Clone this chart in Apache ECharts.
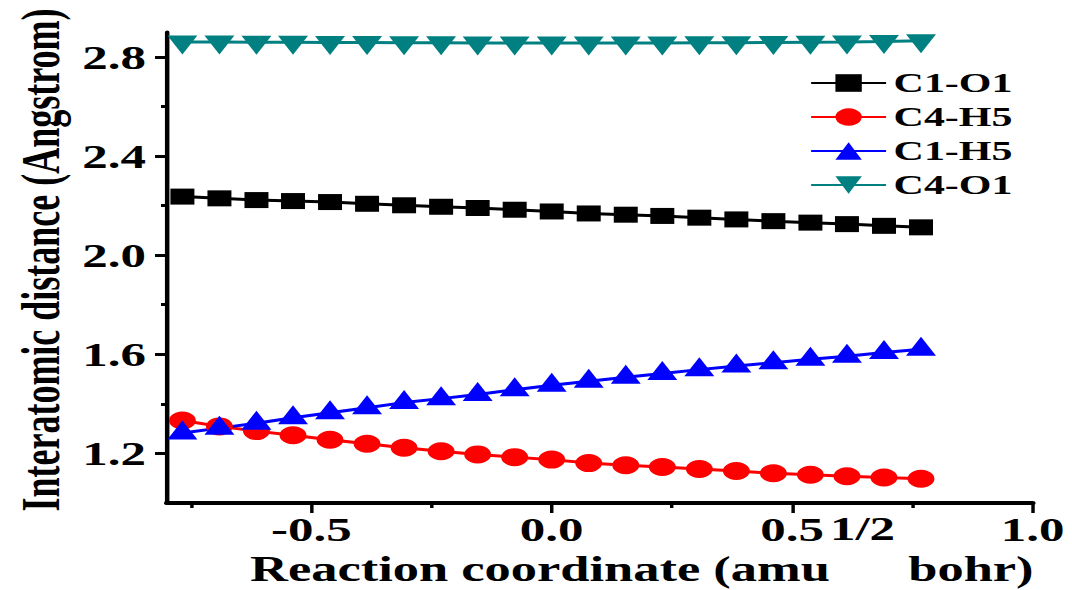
<!DOCTYPE html>
<html>
<head>
<meta charset="utf-8">
<script src="https://cdn.jsdelivr.net/npm/echarts@6/dist/echarts.min.js"></script>
<style>
  html, body { margin: 0; padding: 0; background: #fff; }
  #wrap { width: 1072px; height: 590px; overflow: hidden; position: relative; }
  #chart { width: 715px; height: 590px; transform: scaleX(1.4993); transform-origin: 0 0; }
</style>
</head>
<body>
<div id="wrap"><div id="chart"></div></div>
<script>
// Reaction coordinate (amu^1/2 bohr)
const xValues = [-0.768, -0.691, -0.614, -0.538, -0.461, -0.384, -0.307, -0.230, -0.154, -0.077,
                 0.000, 0.077, 0.154, 0.230, 0.307, 0.384, 0.461, 0.538, 0.614, 0.691, 0.768];
// Interatomic distances (Angstrom)
const c1o1 = [2.236, 2.229, 2.222, 2.218, 2.214, 2.207, 2.201, 2.195, 2.190, 2.183, 2.176,
              2.168, 2.163, 2.158, 2.151, 2.144, 2.137, 2.131, 2.125, 2.118, 2.112];
const c4h5 = [1.333, 1.309, 1.290, 1.273, 1.255, 1.239, 1.223, 1.209, 1.196, 1.185, 1.175,
              1.161, 1.152, 1.145, 1.137, 1.129, 1.120, 1.114, 1.108, 1.103, 1.098];
const c1h5 = [1.282, 1.302, 1.322, 1.344, 1.364, 1.384, 1.405, 1.421, 1.438, 1.457, 1.475,
              1.491, 1.507, 1.522, 1.538, 1.553, 1.566, 1.580, 1.592, 1.607, 1.620];
const c4o1 = [2.860, 2.860, 2.859, 2.859, 2.858, 2.858, 2.857, 2.857, 2.856, 2.856, 2.856,
              2.856, 2.856, 2.856, 2.857, 2.857, 2.858, 2.859, 2.860, 2.862, 2.865];
const seriesNames = ['C1-O1', 'C4-H5', 'C1-H5', 'C4-O1'];
const xMajorTicks = [-0.5, 0.0, 0.5, 1.0];
const xMinorTicks = [-0.75, -0.25, 0.25, 0.75];
const yMajorTicks = [1.2, 1.6, 2.0, 2.4, 2.8];
const yMinorTicks = [1.4, 1.8, 2.2, 2.6];

const FONT = 'Liberation Serif';
const pts = arr => xValues.map((x, i) => [x, arr[i]]);

const chart = echarts.init(document.getElementById('chart'), null, { renderer: 'svg' });
const labelStyle = { fontFamily: FONT, fontWeight: 'bold', fontSize: 34, color: '#000' };

const option = {
  animation: false,
  backgroundColor: '#fff',
  grid: { left: 111.4, right: 26.3, top: 32, bottom: 87, containLabel: false, outerBoundsMode: 'none' },
  legend: {
    data: seriesNames,
    orient: 'vertical',
    left: 540, top: 69, padding: 0,
    itemWidth: 50, itemHeight: 22, itemGap: 6,
    textStyle: { fontFamily: FONT, fontWeight: 'bold', fontSize: 28, color: '#000' }
  },
  xAxis: [{
    type: 'value', min: -0.8, max: 1.0,
    name: '{a|Reaction coordinate (amu}{s|1/2}{a| bohr)}',
    nameLocation: 'middle', nameGap: 84, nameMoveOverlap: false,
    nameTextStyle: {
      verticalAlign: 'bottom',
      padding: [0, 0, 0, 56],
      rich: {
        a: { fontFamily: FONT, fontWeight: 'bold', fontSize: 35, color: '#000', verticalAlign: 'bottom' },
        s: { fontFamily: FONT, fontWeight: 'bold', fontSize: 34, color: '#000', verticalAlign: 'bottom', padding: [0, 0, 42, 0] }
      }
    },
    axisLine: { onZero: false, lineStyle: { color: '#000', width: 4 } },
    axisTick: { customValues: xMajorTicks, length: 10, lineStyle: { color: '#000', width: 2.3 } },
    axisLabel: Object.assign({ customValues: xMajorTicks, margin: 9, formatter: v => v.toFixed(1) }, labelStyle),
    splitLine: { show: false }
  }, {
    type: 'value', min: -0.8, max: 1.0, position: 'bottom',
    axisLine: { show: false, onZero: false },
    axisTick: { show: true, customValues: xMinorTicks, length: 5, lineStyle: { color: '#000', width: 2.3 } },
    axisLabel: { show: false },
    splitLine: { show: false }
  }],
  yAxis: [{
    type: 'value', min: 1.0, max: 2.9,
    name: 'Interatomic distance (Angstrom)',
    nameLocation: 'middle', nameGap: 66, nameMoveOverlap: false,
    nameTextStyle: { fontFamily: FONT, fontWeight: 'bold', fontSize: 36, color: '#000', padding: [0, 0, 0, 15] },
    axisLine: { onZero: false, lineStyle: { color: '#000', width: 3 } },
    axisTick: { customValues: yMajorTicks, length: 8, lineStyle: { color: '#000', width: 3 } },
    axisLabel: Object.assign({ customValues: yMajorTicks, margin: 14, formatter: v => v.toFixed(1) }, labelStyle),
    splitLine: { show: false }
  }, {
    type: 'value', min: 1.0, max: 2.9, position: 'left',
    axisLine: { show: false, onZero: false },
    axisTick: { show: true, customValues: yMinorTicks, length: 4, lineStyle: { color: '#000', width: 3 } },
    axisLabel: { show: false },
    splitLine: { show: false }
  }],
  series: [
    { name: seriesNames[0], type: 'line', data: pts(c1o1), symbol: 'rect', symbolSize: 16,
      color: '#000000', lineStyle: { width: 3, color: '#000000' }, itemStyle: { color: '#000000' } },
    { name: seriesNames[1], type: 'line', data: pts(c4h5), symbol: 'circle', symbolSize: 18,
      color: '#ff0000', lineStyle: { width: 3, color: '#ff0000' }, itemStyle: { color: '#ff0000' } },
    { name: seriesNames[2], type: 'line', data: pts(c1h5), symbol: 'triangle', symbolSize: [20, 19],
      symbolOffset: [0, -3],
      color: '#0000ff', lineStyle: { width: 3, color: '#0000ff' }, itemStyle: { color: '#0000ff' } },
    { name: seriesNames[3], type: 'line', data: pts(c4o1), symbol: 'triangle', symbolSize: [20, 19],
      symbolRotate: 180, symbolOffset: [0, 3],
      color: '#008080', lineStyle: { width: 3, color: '#008080' }, itemStyle: { color: '#008080' } }
  ]
};
chart.setOption(option);
</script>
</body>
</html>
